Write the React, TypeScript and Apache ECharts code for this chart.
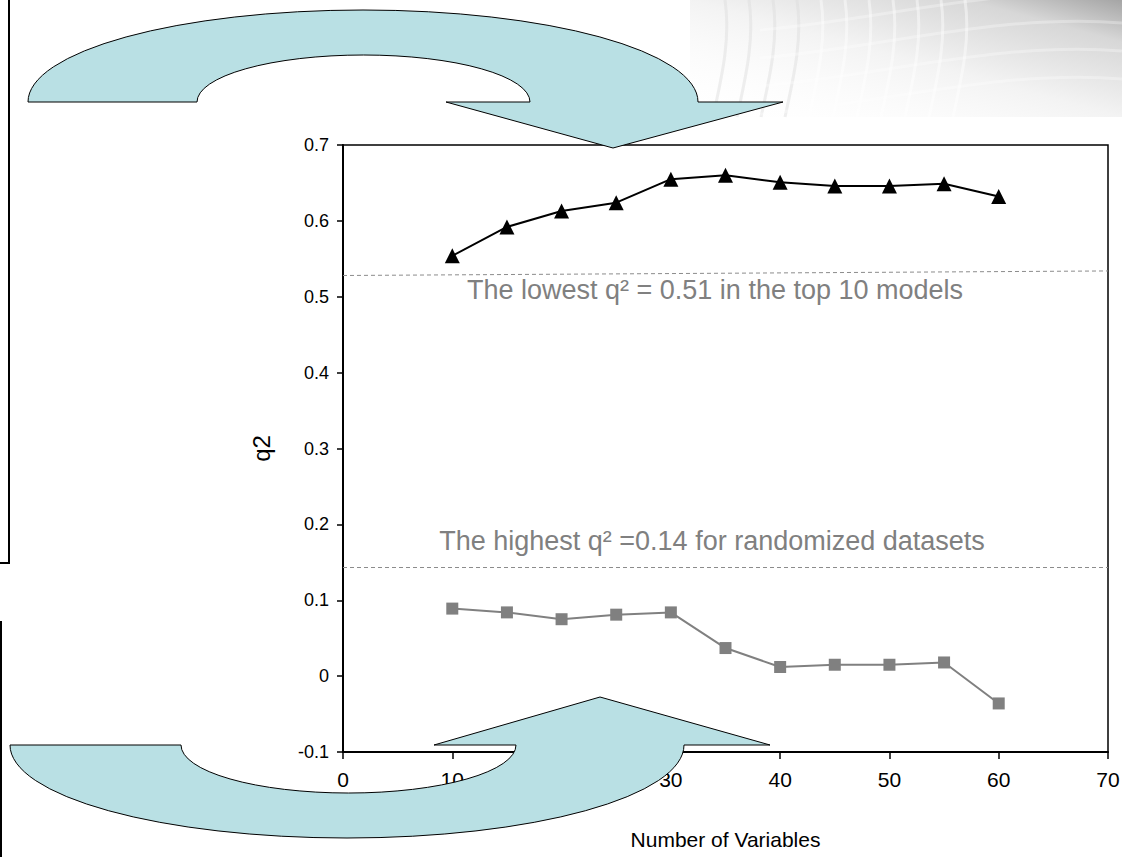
import React, { useEffect, useRef } from "react";
import * as echarts from "echarts";

const FONT = "'Liberation Sans', Arial, sans-serif";

// Data
const numberOfVariables = [10, 15, 20, 25, 30, 35, 40, 45, 50, 55, 60];
const topModelsQ2 = [0.554, 0.592, 0.613, 0.624, 0.655, 0.66, 0.651, 0.646, 0.646, 0.649, 0.632];
const randomizedQ2 = [0.089, 0.084, 0.075, 0.081, 0.084, 0.037, 0.012, 0.015, 0.015, 0.018, -0.036];
const lowestTopLine = [0.528, 0.534]; // at x = 0 and x = 70
const highestRandomLine = [0.144, 0.144];
const xAxisRange = [0, 70];
const xAxisStep = 10;
const yAxisRange = [-0.1, 0.7];
const yAxisStep = 0.1;
const annotationTop = "The lowest q² = 0.51 in the top 10 models";
const annotationBottom = "The highest q² =0.14 for randomized datasets";
const xAxisTitle = "Number of Variables";
const yAxisTitle = "q2";

const TOP_ARROW =
  "M 28 102 A 335 92 0 0 1 698 102 L 783 102 L 613 148 L 446 102 L 530 102 A 166.5 47 0 0 0 197 102 Z";
const BOTTOM_ARROW =
  "M 10 745 A 337 93 0 0 0 684 745 L 770 745 L 600 697 L 434 745 L 516 745 A 167.5 48 0 0 1 181 745 Z";

echarts.graphic.registerShape("arrowTop", echarts.graphic.extendPath(TOP_ARROW, {}));
echarts.graphic.registerShape("arrowBottom", echarts.graphic.extendPath(BOTTOM_ARROW, {}));

function backgroundDecor(): any[] {
  const els: any[] = [];
  els.push({
    type: "rect",
    z: 1,
    silent: true,
    shape: { x: 690, y: 0, width: 432, height: 117 },
    style: {
      fill: new echarts.graphic.LinearGradient(0, 1, 1, 0, [
        { offset: 0, color: "rgba(255,255,255,0)" },
        { offset: 0.5, color: "rgba(243,243,243,1)" },
        { offset: 0.82, color: "rgba(215,215,215,1)" },
        { offset: 1, color: "rgba(165,165,165,1)" },
      ]),
    },
  });
  for (let i = 0; i < 11; i++) {
    const x0 = 725 + i * 24;
    els.push({
      type: "bezierCurve",
      z: 2,
      silent: true,
      shape: { x1: x0, y1: 0, cpx1: x0 + 6, cpy1: 40, cpx2: x0 - 4, cpy2: 80, x2: x0 - 12, y2: 117 },
      style: { stroke: i < 4 ? "rgba(220,220,220,0.45)" : "rgba(255,255,255,0.45)", lineWidth: 3 },
    });
  }
  for (let j = 0; j < 4; j++) {
    const y0 = 10 + j * 28;
    els.push({
      type: "bezierCurve",
      z: 2,
      silent: true,
      shape: { x1: 760, y1: y0 + 20, cpx1: 880, cpy1: y0 + 10, cpx2: 1000, cpy2: y0 - 25, x2: 1122, y2: y0 - 15 },
      style: { stroke: "rgba(255,255,255,0.3)", lineWidth: 3 },
    });
  }
  return els;
}

const App: React.FC = () => {
  const ref = useRef<HTMLDivElement>(null);
  useEffect(() => {
    if (!ref.current) return;
    const chart = echarts.init(ref.current, null, { renderer: "svg" });
    const fmt = (v: number) => String(parseFloat(v.toFixed(1)));
    const option: any = {
      animation: false,
      backgroundColor: "#ffffff",
      textStyle: { fontFamily: FONT },
      grid: {
        left: 343,
        right: 14,
        top: 145,
        bottom: 105,
        show: true,
        borderColor: "#000",
        borderWidth: 1.5,
        backgroundColor: "transparent",
        containLabel: false,
        outerBoundsMode: "none",
      },
      xAxis: {
        type: "value",
        min: xAxisRange[0],
        max: xAxisRange[1],
        interval: xAxisStep,
        name: xAxisTitle,
        nameLocation: "middle",
        nameGap: 77,
        nameTextStyle: { fontSize: 21, color: "#000", fontFamily: FONT },
        axisLine: { show: true, onZero: false, lineStyle: { color: "#000", width: 2 } },
        axisTick: { show: true, inside: false, length: 7, lineStyle: { color: "#000", width: 1.5 } },
        axisLabel: { color: "#000", fontSize: 21, margin: 17, fontFamily: FONT, formatter: fmt },
        splitLine: { show: false },
      },
      yAxis: {
        type: "value",
        min: yAxisRange[0],
        max: yAxisRange[1],
        interval: yAxisStep,
        name: yAxisTitle,
        nameLocation: "middle",
        nameGap: 70,
        nameTextStyle: { fontSize: 24, color: "#000", fontFamily: FONT },
        axisLine: { show: true, onZero: false, lineStyle: { color: "#000", width: 2 } },
        axisTick: { show: true, inside: false, length: 6, lineStyle: { color: "#000", width: 1.5 } },
        axisLabel: { color: "#000", fontSize: 18, margin: 14, fontFamily: FONT, formatter: fmt },
        splitLine: { show: false },
      },
      series: [
        {
          type: "line",
          data: numberOfVariables.map((x, i) => [x, topModelsQ2[i]]),
          symbol: "triangle",
          symbolSize: 15,
          lineStyle: { color: "#000", width: 2 },
          itemStyle: { color: "#000" },
          z: 4,
        },
        {
          type: "line",
          data: numberOfVariables.map((x, i) => [x, randomizedQ2[i]]),
          symbol: "rect",
          symbolSize: 12,
          lineStyle: { color: "#808080", width: 2 },
          itemStyle: { color: "#808080" },
          z: 3,
          markLine: {
            silent: true,
            symbol: "none",
            label: { show: false },
            lineStyle: { color: "#8c8c8c", width: 1, type: [4, 3] },
            data: [
              [{ coord: [xAxisRange[0], lowestTopLine[0]] }, { coord: [xAxisRange[1], lowestTopLine[1]] }],
              [{ coord: [xAxisRange[0], highestRandomLine[0]] }, { coord: [xAxisRange[1], highestRandomLine[1]] }],
            ],
          },
        },
      ],
      graphic: [
        ...backgroundDecor(),
        {
          type: "text",
          z: 50,
          silent: true,
          x: 715,
          y: 290,
          style: { text: annotationTop, fill: "#808080", fontSize: 27, fontFamily: FONT, align: "center", verticalAlign: "middle" },
        },
        {
          type: "text",
          z: 50,
          silent: true,
          x: 712,
          y: 541,
          style: { text: annotationBottom, fill: "#808080", fontSize: 27, fontFamily: FONT, align: "center", verticalAlign: "middle" },
        },
        {
          type: "polyline",
          z: 50,
          silent: true,
          shape: { points: [[9, 0], [9, 563], [0, 563]] },
          style: { stroke: "#000", lineWidth: 2, fill: null },
        },
        {
          type: "line",
          z: 50,
          silent: true,
          shape: { x1: 1, y1: 621, x2: 1, y2: 857 },
          style: { stroke: "#000", lineWidth: 2 },
        },
        {
          type: "arrowTop",
          z: 100,
          silent: true,
          x: 0,
          y: 0,
          style: { fill: "#B9E0E4", stroke: "#000", lineWidth: 1 },
        },
        {
          type: "arrowBottom",
          z: 100,
          silent: true,
          x: 0,
          y: 0,
          style: { fill: "#B9E0E4", stroke: "#000", lineWidth: 1 },
        },
      ],
    };
    chart.setOption(option);
    return () => chart.dispose();
  }, []);
  return (
    <div
      ref={ref}
      style={{ position: "absolute", left: 0, top: 0, width: 1122, height: 857 }}
    />
  );
};

export default App;
